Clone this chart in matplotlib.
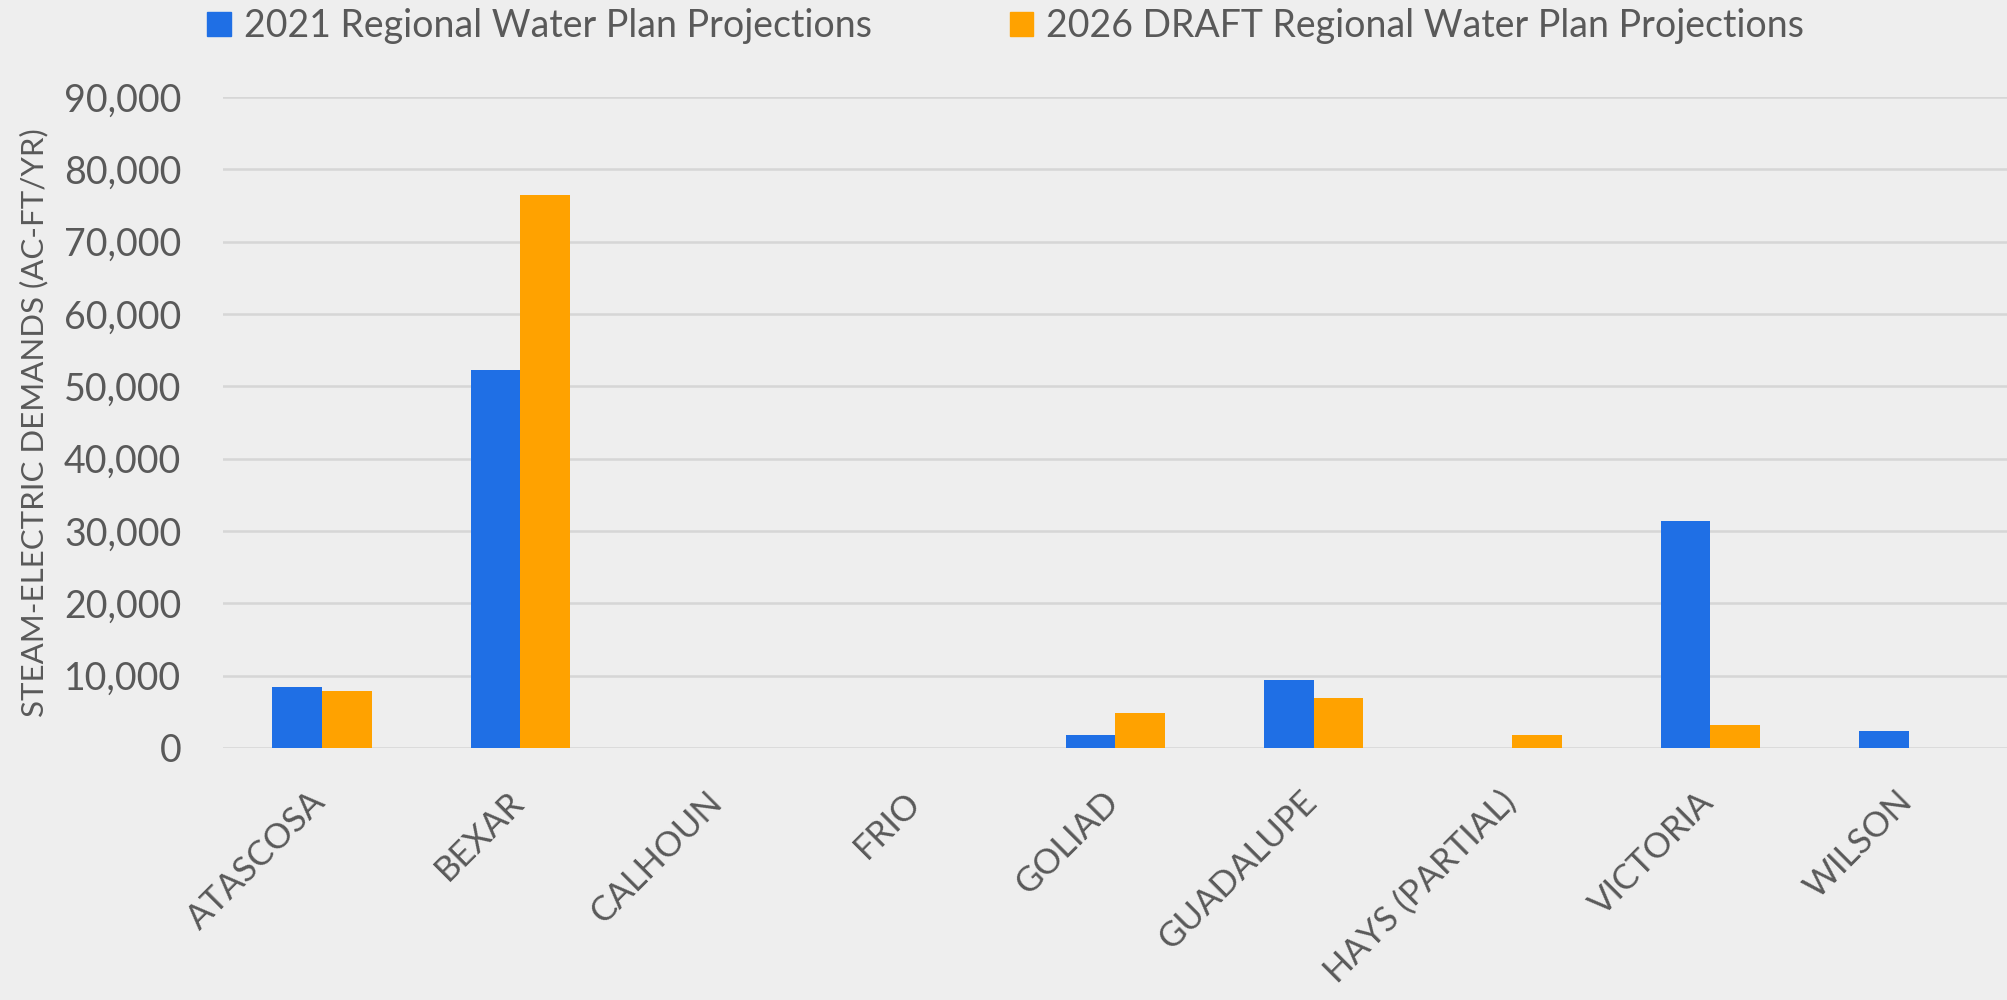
import matplotlib.pyplot as plt
import numpy as np
from matplotlib.patches import Patch
from matplotlib.transforms import ScaledTranslation

counties = ['ATASCOSA', 'BEXAR', 'CALHOUN', 'FRIO', 'GOLIAD', 'GUADALUPE',
            'HAYS (PARTIAL)', 'VICTORIA', 'WILSON']
plan_2021 = [8400, 52200, 0, 0, 1750, 9370, 0, 31450, 2350]
plan_2026 = [7900, 76400, 0, 0, 4900, 6950, 1850, 3150, 0]
series_names = ['2021 Regional Water Plan Projections',
                '2026 DRAFT Regional Water Plan Projections']

blue = '#1F6FE5'
orange = '#FFA200'
txt = '#595959'
bg = '#EEEEEE'

plt.rcParams['font.family'] = ['Lato', 'DejaVu Sans']

fig = plt.figure(figsize=(20.08, 10), dpi=100, facecolor=bg)
ax = fig.add_axes([0.111, 0.252, 0.889, 0.651], facecolor=bg)

x = np.arange(len(counties))
w = 0.25
ax.bar(x - w / 2, plan_2021, w, color=blue, zorder=3)
ax.bar(x + w / 2, plan_2026, w, color=orange, zorder=3)

ax.set_xlim(-0.5, len(counties) - 0.5)
ax.set_ylim(0, 90000)
ax.set_yticks(np.arange(0, 90001, 10000))
ax.yaxis.set_major_formatter(plt.FuncFormatter(lambda v, p: f'{int(v):,}'))
ax.grid(axis='y', color='#D6D6D6', linewidth=1.8, zorder=0)
ax.set_axisbelow(True)
for s in ax.spines.values():
    s.set_visible(False)
ax.tick_params(length=0, labelcolor=txt)
ax.tick_params(axis='y', labelsize=27, pad=30)
ax.set_xticks(x)
ax.set_xticklabels(counties, rotation=45, ha='right', va='top',
                   rotation_mode='anchor')
ax.tick_params(axis='x', labelsize=25, pad=27)
# nudge the slanted labels a little to the left
shift = ScaledTranslation(-13 / 100, 0, fig.dpi_scale_trans)
for lab in ax.get_xticklabels():
    lab.set_transform(lab.get_transform() + shift)

ax.set_ylabel('STEAM-ELECTRIC DEMANDS (AC-FT/YR)', fontsize=22.5, color=txt)
ax.yaxis.set_label_coords(-0.098, 0.5)

handles = [Patch(color=blue), Patch(color=orange)]
fig.legend(handles, series_names, loc='upper left', bbox_to_anchor=(0.0865, 1.0255),
           ncol=2, frameon=False, fontsize=27, labelcolor=txt,
           handlelength=0.62, handleheight=0.62, handletextpad=0.35,
           columnspacing=3.68)

fig.savefig('out.png', dpi=100, facecolor=bg)
